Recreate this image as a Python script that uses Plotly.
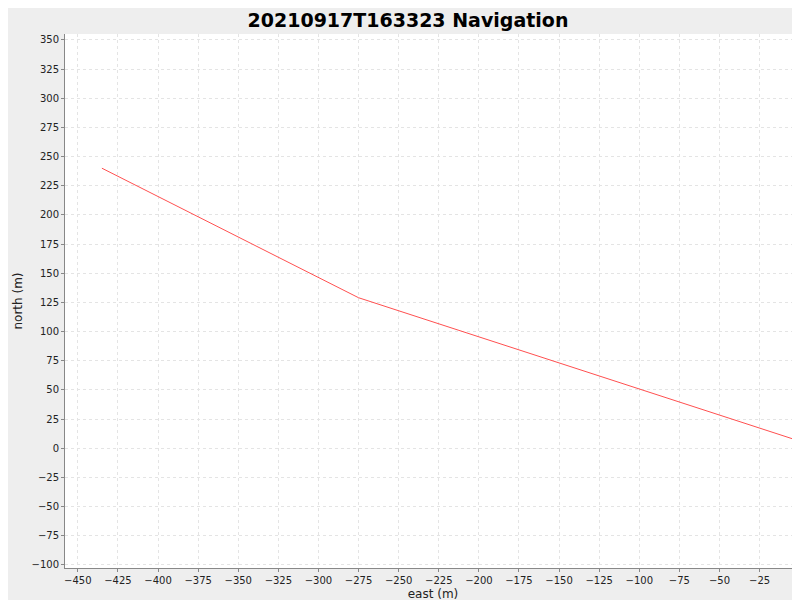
import plotly.graph_objects as go

east = [-435, -275, -2, 0, 0]
north = [240, 129, 7, 5, 0]
x_ticks = list(range(-450, 1, 25))
y_ticks = list(range(-100, 351, 25))

fig = go.Figure(go.Scatter(x=east, y=north, mode="lines",
                           line=dict(color="#ff5050", width=1)))
ax = dict(showgrid=True, gridcolor="#e4e4e4", griddash="3px,3px", gridwidth=1,
          zeroline=False, showline=True, linecolor="#888888", ticks="outside",
          ticklen=3, tickcolor="#888888", automargin=False,
          tickfont=dict(size=10, color="#222222"))
fig.update_layout(
    width=800, height=600,
    paper_bgcolor="#eeeeee", plot_bgcolor="white",
    margin=dict(l=57, r=7, t=26, b=40, autoexpand=False),
    font=dict(family="DejaVu Sans", color="#222222"),
    title=dict(text="<b>20210917T163323 Navigation</b>", x=0.5, y=0.98,
               xanchor="center", yanchor="middle", font=dict(size=19, color="black")),
    xaxis=dict(ax, range=[-458, 0.8], tickvals=x_ticks,
               title=dict(text="east (m)", font=dict(size=12), standoff=4)),
    yaxis=dict(ax, range=[-102.6, 355], tickvals=y_ticks,
               title=dict(text="north (m)", font=dict(size=12), standoff=6)),
    showlegend=False,
)
fig.write_html("out.html")
